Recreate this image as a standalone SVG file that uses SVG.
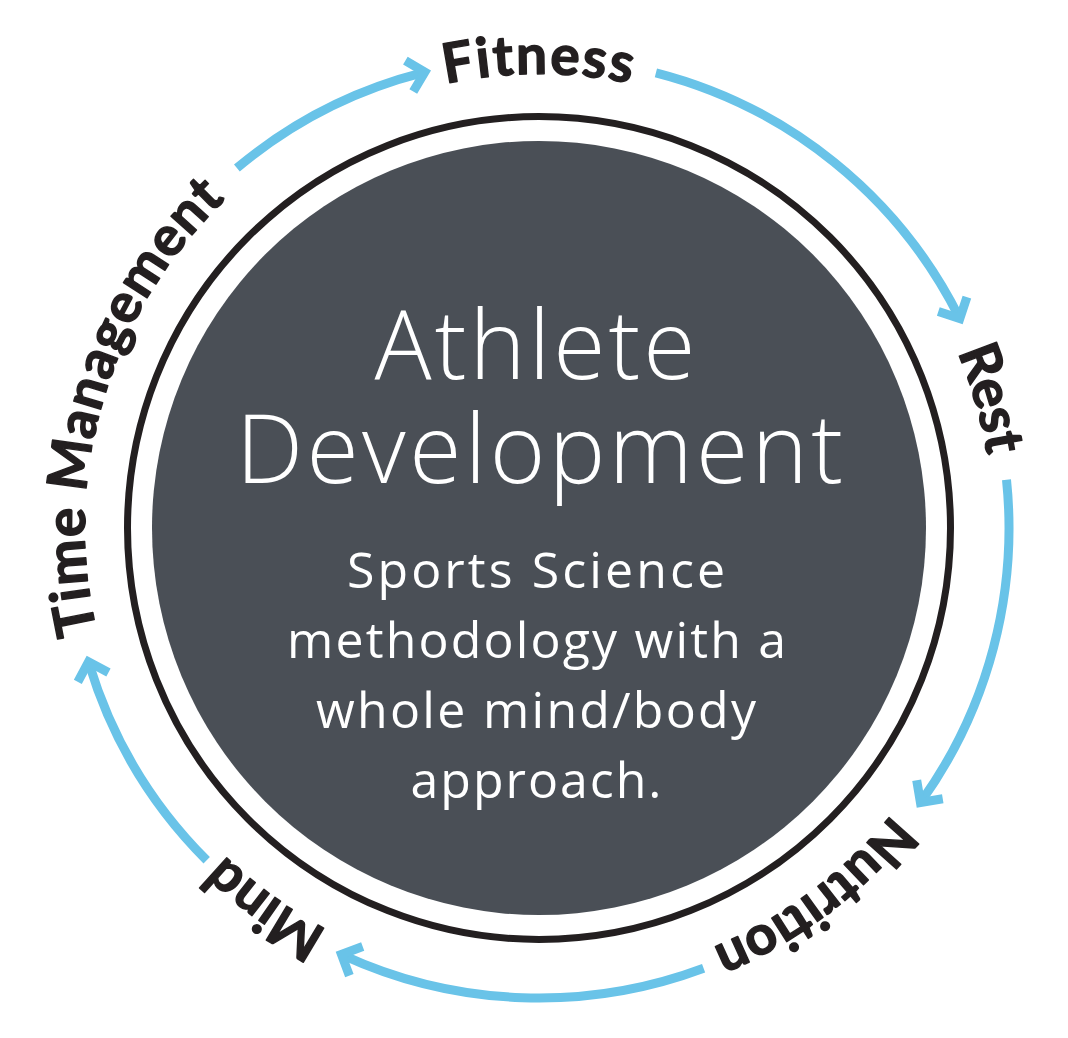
<svg xmlns="http://www.w3.org/2000/svg" width="1068" height="1038" viewBox="0 0 1068 1038">
  <style>
    .arc { fill: none; stroke: #69c3e8; stroke-width: 9; stroke-linecap: butt; }
    .lbl { font-family: "Lato", "Open Sans", "Liberation Sans", sans-serif; font-weight: 700; font-size: 55px; fill: #231f20; stroke: #231f20; stroke-width: 1.4; stroke-linejoin: round; }
    .title { font-family: "Open Sans", "Lato", "Liberation Sans", sans-serif; font-weight: 300; font-size: 95px; fill: #ffffff; text-anchor: middle; }
    .sub { font-family: "Open Sans", "Lato", "Liberation Sans", sans-serif; font-weight: 400; font-size: 50px; fill: #ffffff; text-anchor: middle; }
  </style>
  <defs>
    <marker id="chev" markerUnits="userSpaceOnUse" orient="auto" markerWidth="60" markerHeight="60" refX="0" refY="0" viewBox="-30 -30 60 60" overflow="visible">
      <path d="M -14 -16 L 2 0 L -14 16" fill="none" stroke="#69c3e8" stroke-width="9" stroke-miterlimit="10"/>
    </marker>
    <path id="pFitness" d="M 247.2 180.2 A 454 454 0 0 1 830.8 180.2"/>
    <path id="pRest" d="M 792.9 151.6 A 454 454 0 0 1 953.7 712.6"/>
    <path id="pNutrition" d="M 980.8 632.4 A 454 454 0 0 1 512.9 981.2"/>
    <path id="pMind" d="M 572.2 980.8 A 454 454 0 0 1 98.9 639.4"/>
    <path id="pTime" d="M 122.3 708.3 A 454 454 0 0 1 289.1 149.0"/>
  </defs>

  <rect width="1068" height="1038" fill="#ffffff"/>

  <g id="center">
    <circle cx="539" cy="528" r="411.5" fill="none" stroke="#231f20" stroke-width="7"/>
    <circle cx="539" cy="528" r="387" fill="#4a4f56"/>
    <text class="title" x="535" y="379" textLength="321">Athlete</text>
    <text class="title" x="539.5" y="483" textLength="607">Development</text>
    <text class="sub" x="536" y="588" textLength="378">Sports Science</text>
    <text class="sub" x="536.5" y="658" textLength="499">methodology with a</text>
    <text class="sub" x="536" y="728" textLength="440">whole mind/body</text>
    <text class="sub" x="536" y="798" textLength="251">approach.</text>
  </g>

  <g id="connectors">
    <path class="arc" d="M 236.9 168.0 A 470 470 0 0 1 422.9 72.6" marker-end="url(#chev)"/>
    <path class="arc" d="M 655.9 72.8 A 470 470 0 0 1 958.9 316.8" marker-end="url(#chev)"/>
    <path class="arc" d="M 1006.5 479.7 A 470 470 0 0 1 921.6 800.9" marker-end="url(#chev)"/>
    <path class="arc" d="M 703.6 968.2 A 470 470 0 0 1 343.3 955.3" marker-end="url(#chev)"/>
    <path class="arc" d="M 206.7 860.3 A 470 470 0 0 1 89.1 663.8" marker-end="url(#chev)"/>
  </g>

  <g id="fitness">
    <text class="lbl" letter-spacing="2"><textPath href="#pFitness" startOffset="50%" text-anchor="middle">Fitness</textPath></text>
  </g>
  <g id="rest">
    <text class="lbl"><textPath href="#pRest" startOffset="50%" text-anchor="middle">Rest</textPath></text>
  </g>
  <g id="nutrition">
    <text class="lbl"><textPath href="#pNutrition" startOffset="50%" text-anchor="middle">Nutrition</textPath></text>
  </g>
  <g id="mind">
    <text class="lbl"><textPath href="#pMind" startOffset="50%" text-anchor="middle">Mind</textPath></text>
  </g>
  <g id="time-management">
    <text class="lbl" letter-spacing="1"><textPath href="#pTime" startOffset="50%" text-anchor="middle">Time Management</textPath></text>
  </g>
</svg>
